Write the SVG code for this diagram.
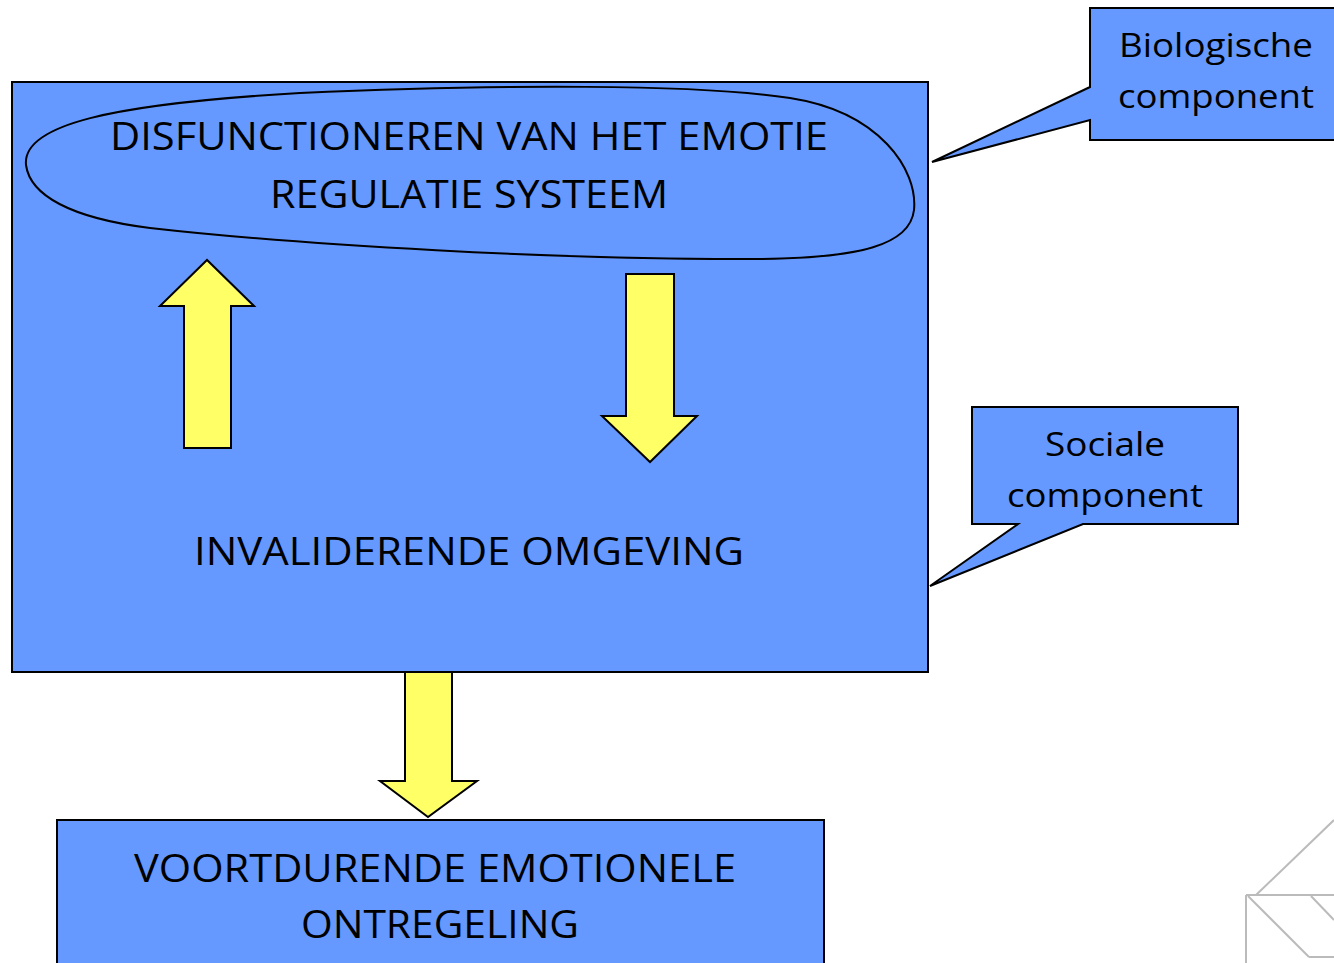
<svg xmlns="http://www.w3.org/2000/svg" width="1334" height="963" viewBox="0 0 1334 963">
<style>
.box{fill:#6699FF;stroke:#000;stroke-width:2}
.arr{fill:#FFFF66;stroke:#000;stroke-width:2;stroke-linejoin:miter}
.t{font-family:"Open Sans","Noto Sans",sans-serif;fill:#000;text-anchor:middle}
.big{font-size:38px}
.med{font-size:33px}
.deco{stroke:#bbbbbb;stroke-width:2;fill:none}
</style>
<rect width="1334" height="963" fill="#fff"/>
<g id="deco">
<line class="deco" x1="1256" y1="895" x2="1334" y2="820"/>
<line class="deco" x1="1246" y1="895" x2="1334" y2="895"/>
<line class="deco" x1="1246" y1="895" x2="1246" y2="963"/>
<line class="deco" x1="1248" y1="896" x2="1309" y2="957"/>
<line class="deco" x1="1309" y1="957" x2="1334" y2="957"/>
<line class="deco" x1="1311" y1="896" x2="1334" y2="920"/>
</g>
<g id="main">
<rect class="box" x="12" y="82" width="916" height="590"/>
<text class="t big" x="469" y="565" textLength="550" lengthAdjust="spacingAndGlyphs">INVALIDERENDE OMGEVING</text>
</g>
<g id="regulatie">
<path class="box" d="M26,165 C22,125 110,104 300,93 C500,84 700,84 790,98 C880,112 918,170 914,210 C910,245 860,258 760,259 C560,260 300,245 150,228 C70,218 30,195 26,165 Z"/>
<text class="t big" x="469" y="150" textLength="718" lengthAdjust="spacingAndGlyphs">DISFUNCTIONEREN VAN HET EMOTIE</text>
<text class="t big" x="469" y="208" textLength="398" lengthAdjust="spacingAndGlyphs">REGULATIE SYSTEEM</text>
</g>
<g id="connectors">
<polygon class="arr" points="184,448 231,448 231,306 254,306 207,260 160,306 184,306"/>
<polygon class="arr" points="626,274 674,274 674,416 697,416 650,462 602,416 626,416"/>
<polygon class="arr" points="405,672 452,672 452,781 477,781 428,817 380,781 405,781"/>
</g>
<g id="ontregeling">
<rect class="box" x="57" y="820" width="767" height="160"/>
<text class="t big" x="435" y="882" textLength="602" lengthAdjust="spacingAndGlyphs">VOORTDURENDE EMOTIONELE</text>
<text class="t big" x="440" y="938" textLength="278" lengthAdjust="spacingAndGlyphs">ONTREGELING</text>
</g>
<g id="biologische">
<path class="box" d="M1090,8 L1340,8 L1340,140 L1090,140 L1090,120 L932,162 L1090,87 Z"/>
<text class="t med" x="1216" y="57" textLength="194" lengthAdjust="spacingAndGlyphs">Biologische</text>
<text class="t med" x="1216" y="108" textLength="196" lengthAdjust="spacingAndGlyphs">component</text>
</g>
<g id="sociale">
<path class="box" d="M972,407 L1238,407 L1238,524 L1083,524 L930,586 L1018,524 L972,524 Z"/>
<text class="t med" x="1105" y="456" textLength="120" lengthAdjust="spacingAndGlyphs">Sociale</text>
<text class="t med" x="1105" y="507" textLength="196" lengthAdjust="spacingAndGlyphs">component</text>
</g>
</svg>
